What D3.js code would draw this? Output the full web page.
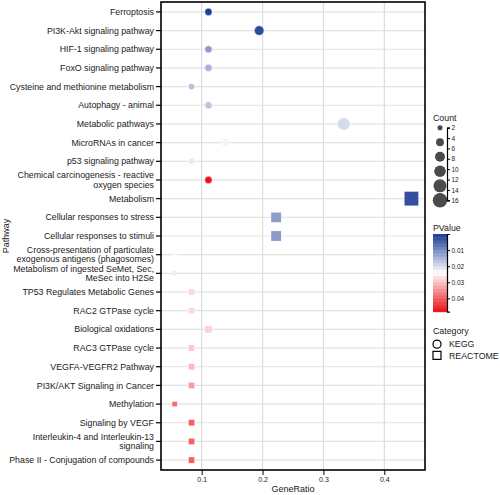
<!DOCTYPE html>
<html><head><meta charset="utf-8">
<script src="https://cdn.jsdelivr.net/npm/d3@7"></script>
<style>body{margin:0;background:#fff;}svg{font-family:"Liberation Sans",Arial,sans-serif;}</style>
</head><body><svg id="c" width="500" height="495"></svg>
<script>
const pathways = ["Ferroptosis","PI3K-Akt signaling pathway","HIF-1 signaling pathway","FoxO signaling pathway","Cysteine and methionine metabolism","Autophagy - animal","Metabolic pathways","MicroRNAs in cancer","p53 signaling pathway","Chemical carcinogenesis - reactive|oxygen species","Metabolism","Cellular responses to stress","Cellular responses to stimuli","Cross-presentation of particulate|exogenous antigens (phagosomes)","Metabolism of ingested SeMet, Sec,|MeSec into H2Se","TP53 Regulates Metabolic Genes","RAC2 GTPase cycle","Biological oxidations","RAC3 GTPase cycle","VEGFA-VEGFR2 Pathway","PI3K/AKT Signaling in Cancer","Methylation","Signaling by VEGF","Interleukin-4 and Interleukin-13|signaling","Phase II - Conjugation of compounds"];
const counts = [4,7,4,4,3,4,12,5,3,4,16,8,8,2,2,3,3,4,3,3,3,2,3,3,3];
const geneRatio = counts.map(c => c/36);
const pvalues = [0.0003,0.002,0.012,0.015,0.0165,0.017,0.0197,0.0255,0.027,0.048,0.0025,0.012,0.012,0.0235,0.0265,0.028,0.028,0.0285,0.0295,0.031,0.034,0.039,0.040,0.040,0.040];
const categories = ["KEGG","KEGG","KEGG","KEGG","KEGG","KEGG","KEGG","KEGG","KEGG","KEGG","REACTOME","REACTOME","REACTOME","REACTOME","REACTOME","REACTOME","REACTOME","REACTOME","REACTOME","REACTOME","REACTOME","REACTOME","REACTOME","REACTOME","REACTOME"];
const xTicks = [0.1,0.2,0.3,0.4];
const countTicks = [2,4,6,8,10,12,14,16];
const countLegend = [2,4.8,7.6,10.4,13.2,16];
const pTicks = [0.01,0.02,0.03,0.04];
const categoryNames = ["KEGG","REACTOME"];

const data = pathways.map((p,i)=>({p, ratio:geneRatio[i], count:counts[i], pv:pvalues[i], cat:categories[i]}));

const svg = d3.select("#c");
const L=161,R=425,T=2,B=470;
const x = d3.scaleLinear().domain([0.0332,0.4668]).range([L,R]);
const y = d3.scalePoint().domain(pathways).range([T,B]).padding(0.53);
const r = d3.scaleSqrt().domain([0,16]).range([0,7.2]);
const cInterp = d3.piecewise(d3.interpolateRgb, ["#1d3c98","#ffffff","#ea0f17"]);
const color = d3.scaleSequential(cInterp).domain([0.0002,0.0482]);

// grid
const g = svg.append("g");
g.selectAll(".hg").data(pathways).join("line").attr("x1",L).attr("x2",R)
 .attr("y1",d=>y(d)).attr("y2",d=>y(d)).attr("stroke","#e3e3e3").attr("stroke-width",1.2);
g.selectAll(".vg").data(xTicks).join("line").attr("y1",T).attr("y2",B)
 .attr("x1",d=>x(d)).attr("x2",d=>x(d)).attr("stroke","#dcdcdc").attr("stroke-width",1.2);

// points
const pts = svg.append("g");
data.forEach(d=>{
  const rr=r(d.count);
  if(d.cat==="KEGG"){
    pts.append("circle").attr("cx",x(d.ratio)).attr("cy",y(d.p)).attr("r",rr)
      .attr("fill",color(d.pv)).attr("stroke","#fff").attr("stroke-width",0.4);
  } else {
    pts.append("rect").attr("x",x(d.ratio)-rr).attr("y",y(d.p)-rr).attr("width",2*rr).attr("height",2*rr)
      .attr("fill",color(d.pv)).attr("stroke","#fff").attr("stroke-width",0.4);
  }
});

// frame
svg.append("rect").attr("x",L).attr("y",T).attr("width",R-L).attr("height",B-T)
  .attr("fill","none").attr("stroke","#000").attr("stroke-width",1.6);

// x axis
const xa = svg.append("g").attr("transform",`translate(0,${B})`)
  .call(d3.axisBottom(x).tickValues(xTicks).tickSize(5).tickPadding(2).tickFormat(d3.format(".1f")));
xa.select(".domain").remove();
xa.selectAll("line").attr("stroke","#000").attr("stroke-width",1);
xa.selectAll("text").attr("font-size",7).attr("fill","#1a1a1a");
svg.append("text").attr("x",293).attr("y",492).attr("text-anchor","middle").attr("font-size",9).attr("fill","#1a1a1a").text("GeneRatio");

// y axis
const ya = svg.append("g");
pathways.forEach(p=>{
  const yy=y(p);
  ya.append("line").attr("x1",L-5).attr("x2",L).attr("y1",yy).attr("y2",yy).attr("stroke","#000").attr("stroke-width",1.2);
  const lines=p.split("|");
  const t=ya.append("text").attr("x",L-7).attr("text-anchor","end").attr("font-size",8.8).attr("fill","#1a1a1a");
  lines.forEach((ln,i)=>{
    t.append("tspan").attr("x",L-7).attr("y",yy+3.1+(i-(lines.length-1)/2)*9.2).text(ln);
  });
});
svg.append("text").attr("transform",`translate(9,${(T+B)/2}) rotate(-90)`).attr("text-anchor","middle")
  .attr("font-size",9).attr("fill","#1a1a1a").text("Pathway");

// Count legend
svg.append("text").attr("x",433).attr("y",121).attr("font-size",8.8).attr("fill","#1a1a1a").text("Count");
const ly = d3.scaleLinear().domain([2,16]).range([127.7,200.3]);
svg.append("g").selectAll("circle").data(countLegend).join("circle")
  .attr("cx",440).attr("cy",d=>ly(d)).attr("r",d=>r(d)).attr("fill","#4a4a4a");
const ca = svg.append("g").attr("transform","translate(447,0)").call(d3.axisRight(ly).tickValues(countTicks).tickSize(3));
ca.select(".domain").attr("stroke","#000").attr("stroke-width",1.2);
ca.selectAll("line").attr("stroke","#000");
ca.selectAll("text").attr("font-size",6.5).attr("fill","#1a1a1a").attr("x",4.5);

// PValue legend
svg.append("text").attr("x",433).attr("y",231).attr("font-size",8.8).attr("fill","#1a1a1a").text("PValue");
const py = d3.scaleLinear().domain([0,0.0483]).range([234,311.7]);
const steps = d3.range(0,24).map(i=>i*0.0483/24);
svg.append("g").selectAll("rect").data(steps).join("rect")
  .attr("x",433).attr("width",14).attr("y",d=>py(d)).attr("height",py(0.0483/24)-py(0)+0.5)
  .attr("fill",d=>color(d+0.0483/48));
const pa = svg.append("g").attr("transform","translate(447,0)").call(d3.axisRight(py).tickValues(pTicks).tickSize(3).tickFormat(d3.format(".2f")));
pa.select(".domain").attr("stroke","#000").attr("stroke-width",1.2);
pa.selectAll("line").attr("stroke","#000");
pa.selectAll("text").attr("font-size",6.5).attr("fill","#1a1a1a").attr("x",4.5);

// Category legend
svg.append("text").attr("x",433).attr("y",334).attr("font-size",8.8).attr("fill","#1a1a1a").text("Category");
const cy = d3.scaleBand().domain(categoryNames).range([338.5,361]);
categoryNames.forEach(c=>{
  const yy=cy(c)+cy.bandwidth()/2;
  if(c==="KEGG") svg.append("circle").attr("cx",437).attr("cy",yy).attr("r",4).attr("fill","none").attr("stroke","#000").attr("stroke-width",1.2);
  else svg.append("rect").attr("x",433).attr("y",yy-4).attr("width",8).attr("height",8).attr("fill","none").attr("stroke","#000").attr("stroke-width",1.2);
  svg.append("text").attr("x",449).attr("y",yy+3.2).attr("font-size",8.8).attr("fill","#1a1a1a").text(c);
});
</script></body></html>
